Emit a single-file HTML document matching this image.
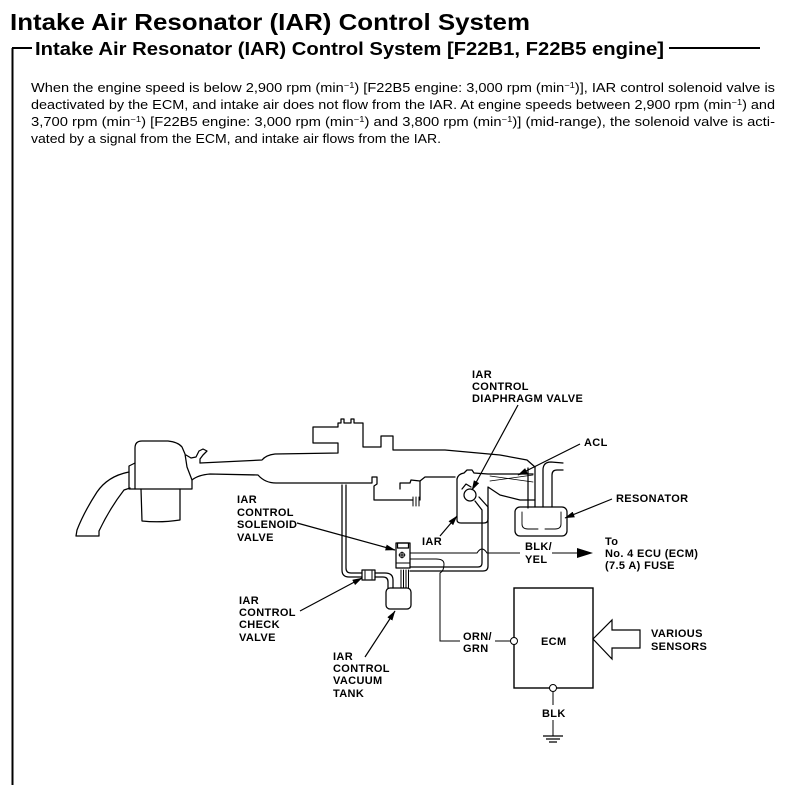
<!DOCTYPE html>
<html><head><meta charset="utf-8">
<style>
html,body{margin:0;padding:0;background:#fff;}
svg{display:block;}
text{font-family:"Liberation Sans",Arial,sans-serif;fill:#000;}
.lb{font-weight:bold;font-size:11px;letter-spacing:0.35px;}
.ln{fill:none;stroke:#000;stroke-width:1.25;stroke-linejoin:round;stroke-linecap:round;}
.w{fill:none;stroke:#000;stroke-width:1;}
.ar{fill:none;stroke:#000;stroke-width:1.2;}
</style></head><body>
<svg width="812" height="785" viewBox="0 0 812 785" xmlns="http://www.w3.org/2000/svg">
<defs>
<marker id="ah" markerWidth="10" markerHeight="6" refX="9.5" refY="3" orient="auto" markerUnits="userSpaceOnUse">
<path d="M0,0 L10,3 L0,6 Z" fill="#000"/>
</marker>
</defs>

<!-- Header -->
<text x="10" y="30" font-size="23" font-weight="bold" textLength="520" lengthAdjust="spacingAndGlyphs">Intake Air Resonator (IAR) Control System</text>
<path d="M12.5,48 L12.5,785 M12,48 L32,48" stroke="#000" stroke-width="2" fill="none"/>
<text x="35" y="55" font-size="18.5" font-weight="bold" textLength="629" lengthAdjust="spacingAndGlyphs">Intake Air Resonator (IAR) Control System [F22B1, F22B5 engine]</text>
<path d="M669,48 L760,48" stroke="#000" stroke-width="2"/>

<!-- Paragraph -->
<text x="31" y="92" font-size="12.5" textLength="744" lengthAdjust="spacingAndGlyphs">When the engine speed is below 2,900 rpm (min<tspan font-size="8" dy="-4">−1</tspan><tspan dy="4">) [F22B5 engine: 3,000 rpm (min</tspan><tspan font-size="8" dy="-4">−1</tspan><tspan dy="4">)], IAR control solenoid valve is</tspan></text>
<text x="31" y="109" font-size="12.5" textLength="744" lengthAdjust="spacingAndGlyphs">deactivated by the ECM, and intake air does not flow from the IAR. At engine speeds between 2,900 rpm (min<tspan font-size="8" dy="-4">−1</tspan><tspan dy="4">) and</tspan></text>
<text x="31" y="126" font-size="12.5" textLength="744" lengthAdjust="spacingAndGlyphs">3,700 rpm (min<tspan font-size="8" dy="-4">−1</tspan><tspan dy="4">) [F22B5 engine: 3,000 rpm (min</tspan><tspan font-size="8" dy="-4">−1</tspan><tspan dy="4">) and 3,800 rpm (min</tspan><tspan font-size="8" dy="-4">−1</tspan><tspan dy="4">)] (mid-range), the solenoid valve is acti-</tspan></text>
<text x="31" y="143" font-size="12.5" textLength="410" lengthAdjust="spacingAndGlyphs">vated by a signal from the ECM, and intake air flows from the IAR.</text>

<!-- Air cleaner & intake duct -->
<g class="ln">
<path d="M135,489 L135,448 Q135,441 142,441 L168,441 Q178,442 182,447 L185,454 L187,467 L192,480 L192,489 Z"/>
<path d="M135,463 L129,466 L129,489 L135,489"/>
<path d="M141,489 L142,521 Q160,523 180,520 L180,489"/>
<path d="M129,472 Q108,476 97,492 Q84,512 77,530 L76,536 L99,536 L99,531 Q110,508 124,490 L130,488"/>
<path d="M186,455 L191,458 L196,457 L199,451 L203,449 L207,451 L203,455 L200,459 L200,463"/>
<path d="M200,463 L262,460 Q266,455 275,454 L338,453 L338,443 L313,443 L313,427 L338,427 L338,423 L341,423 L341,419 L344,419 L344,423 L351,423 L351,419 L354,419 L354,423 L363,423 L363,447 L381,447 L381,436 L393,436 L393,450 L445,450 L500,455 L527,460 L535,467"/>
<path d="M192,480 Q198,475 210,474 L258,475 Q265,483 276,483 L372,483 L372,477 L377,477 L377,484 L374,486 L374,500 L413,500"/>
<path d="M413,497 V506 M416,497 V506 M419,497 V506" stroke-width="1"/>
<path d="M400,489 L400,483 L410,483 L411,480 L420,481 L420,500"/>
<path d="M420,481 L425,477 L455,477"/>
<!-- IAR box -->
<path d="M457,479 L457,520 Q457,523 461,523 L484,523 Q488,523 488,519 L488,487 L500,495 L520,500 L535,500"/>
<path d="M457,479 Q458,474 464,473 L467,470 L472,470 L474,473 L488,474 L533,474"/>
<path d="M490,476 L533,482 M490,481 L533,475" stroke-width="0.8"/>
<!-- resonator pipes -->
<path d="M528,468 L528,508 M535,467 L535,507"/>
<path d="M543,507 L543,470 Q543,462 551,462 L563,463 M552,507 L552,475 Q552,470 557,470 L563,470"/>
<rect x="515" y="507" width="52" height="29" rx="5"/>
<path d="M522,512 L522,524 Q522,529 528,529 L538,529 M545,529 L555,529 Q561,529 561,524 L561,512" stroke-width="0.9"/>
<!-- diaphragm valve -->
<circle cx="470" cy="495" r="6"/>
<path d="M462,489 L466,484 L471,487"/>
<path d="M475,501 L482,510 L482,563 Q482,567 478,567 L410,567 M479,497 L488,507 L488,566 Q488,571 483,571 L410,571"/>
<!-- vertical pipe & check valve -->
<path d="M342,485 L342,570 Q342,577 349,577 L362,577 M346,485 L346,568 Q346,573 351,573 L362,573"/>
<rect x="362" y="570" width="13" height="10"/>
<path d="M365,571 V579 M372,571 V579" stroke-width="1"/>
<path d="M375,573 L385,573 Q393,573 393,580 L393,588 M375,577 L383,577 Q388,577 388,582 L388,588"/>
<!-- tank -->
<rect x="386" y="588" width="25" height="21" rx="4"/>
<path d="M401,570 V588 M403.5,570 V588 M406,570 V588 M408.5,570 V588" stroke-width="1"/>
<!-- solenoid -->
<rect x="396" y="543" width="14" height="25" fill="#fff"/>
<rect x="397.5" y="543" width="11" height="5"/>
<circle cx="402" cy="555" r="2.5" stroke-width="1"/>
<path d="M399,555 H405 M402,552 V558 M396,563 H410" stroke-width="1"/>
</g>

<!-- wires -->
<g class="w">
<path d="M410,553 L477,553 Q482,545 487,553 L520,553"/>
<path d="M552,553 L578,553"/>
<path d="M410,559 L436,559 Q444,559 444,564 Q444,571 440,573 L440,641 L460,641 M495,641 L510.5,641"/>
<path d="M553,691.5 L553,705 M553,720 L553,736"/>
<path d="M543,736 H563 M546,739 H560 M549,742 H557" stroke-width="1.2"/>
</g>
<polygon points="577,548 593,553 577,558" fill="#000"/>

<!-- ECM -->
<rect x="514" y="588" width="79" height="100" fill="none" stroke="#000" stroke-width="1.4"/>
<circle cx="514" cy="641" r="3.5" fill="#fff" stroke="#000" stroke-width="1"/>
<circle cx="553" cy="688" r="3.5" fill="#fff" stroke="#000" stroke-width="1"/>
<polygon points="593,639 612,620 612,630 640,630 640,648 612,648 612,659" fill="#fff" stroke="#000" stroke-width="1.2"/>

<!-- arrows -->
<g class="ar">
<path d="M518,405 L472,490" marker-end="url(#ah)"/>
<path d="M580,444 L518,475" marker-end="url(#ah)"/>
<path d="M612,499 L565,518" marker-end="url(#ah)"/>
<path d="M297,523 L395,550" marker-end="url(#ah)"/>
<path d="M440,536 L457,516" marker-end="url(#ah)"/>
<path d="M300,611 L362,578" marker-end="url(#ah)"/>
<path d="M365,657 L395,611" marker-end="url(#ah)"/>
</g>

<!-- labels -->
<g class="lb">
<text x="472" y="378">IAR</text>
<text x="472" y="390">CONTROL</text>
<text x="472" y="402">DIAPHRAGM VALVE</text>
<text x="584" y="446">ACL</text>
<text x="616" y="502">RESONATOR</text>
<text x="237" y="503">IAR</text>
<text x="237" y="516">CONTROL</text>
<text x="237" y="528">SOLENOID</text>
<text x="237" y="541">VALVE</text>
<text x="422" y="545">IAR</text>
<text x="525" y="550">BLK/</text>
<text x="525" y="563">YEL</text>
<text x="605" y="545">To</text>
<text x="605" y="557">No. 4 ECU (ECM)</text>
<text x="605" y="569">(7.5 A) FUSE</text>
<text x="239" y="604">IAR</text>
<text x="239" y="616">CONTROL</text>
<text x="239" y="628">CHECK</text>
<text x="239" y="641">VALVE</text>
<text x="333" y="660">IAR</text>
<text x="333" y="672">CONTROL</text>
<text x="333" y="684">VACUUM</text>
<text x="333" y="697">TANK</text>
<text x="463" y="640">ORN/</text>
<text x="463" y="652">GRN</text>
<text x="541" y="645">ECM</text>
<text x="651" y="637">VARIOUS</text>
<text x="651" y="650">SENSORS</text>
<text x="542" y="717">BLK</text>
</g>
</svg>
</body></html>
